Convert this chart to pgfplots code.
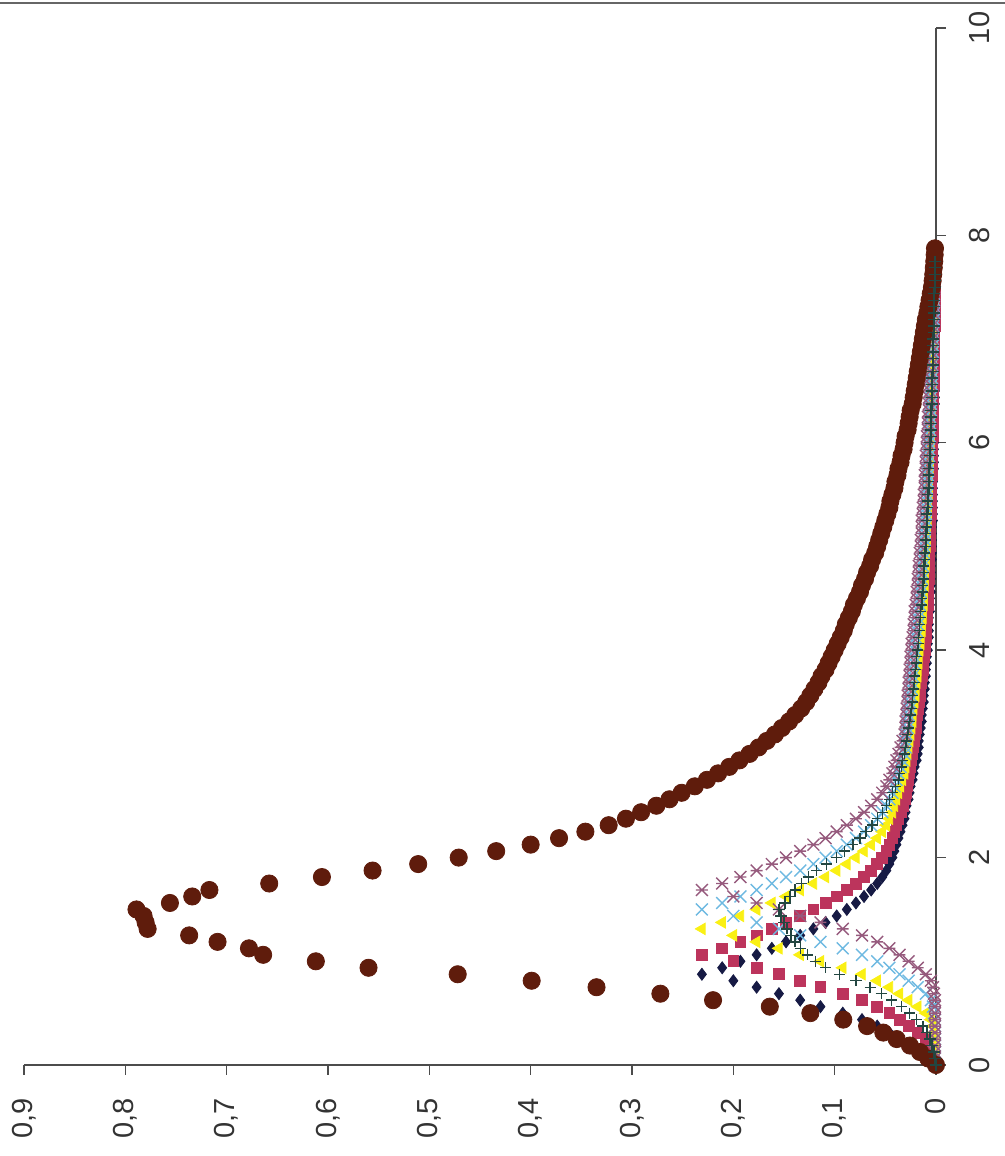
\documentclass[border=0pt]{standalone}
\usepackage{fontspec}
\setmainfont{Liberation Sans}
\usepackage{pgfplots}
\pgfplotsset{compat=1.18}
\usepackage{pgfplotstable}

\definecolor{cnav}{RGB}{22,26,68}
\definecolor{ccri}{RGB}{188,52,92}
\definecolor{cyel}{RGB}{250,240,20}
\definecolor{clbl}{RGB}{110,185,225}
\definecolor{csta}{RGB}{150,90,125}
\definecolor{cplu}{RGB}{35,70,65}
\definecolor{cbro}{RGB}{95,28,12}

\pgfdeclareplotmark{exstar}{%
 \pgfpathmoveto{\pgfqpoint{-.70710678\pgfplotmarksize}{-.70710678\pgfplotmarksize}}%
 \pgfpathlineto{\pgfqpoint{.70710678\pgfplotmarksize}{.70710678\pgfplotmarksize}}%
 \pgfpathmoveto{\pgfqpoint{-.70710678\pgfplotmarksize}{.70710678\pgfplotmarksize}}%
 \pgfpathlineto{\pgfqpoint{.70710678\pgfplotmarksize}{-.70710678\pgfplotmarksize}}%
 \pgfpathmoveto{\pgfqpoint{-.70710678\pgfplotmarksize}{0pt}}%
 \pgfpathlineto{\pgfqpoint{.70710678\pgfplotmarksize}{0pt}}%
 \pgfusepathqstroke}

\pgfplotstableread{
x nav cri yel lbl sta plu
0 0.005 0.001 0.001 0.001 0.001 0.000
0.0625 0.010 0.002 0.001 0.001 0.001 0.001
0.125 0.018 0.003 0.001 0.001 0.001 0.002
0.1875 0.027 0.005 0.001 0.001 0.001 0.004
0.25 0.036 0.010 0.001 0.001 0.001 0.006
0.3125 0.046 0.018 0.002 0.001 0.001 0.009
0.375 0.058 0.027 0.003 0.001 0.001 0.013
0.4375 0.073 0.036 0.005 0.001 0.001 0.019
0.5 0.092 0.046 0.010 0.002 0.001 0.026
0.5625 0.114 0.058 0.018 0.003 0.001 0.034
0.625 0.134 0.073 0.027 0.005 0.001 0.044
0.6875 0.155 0.092 0.036 0.010 0.002 0.054
0.75 0.177 0.114 0.046 0.018 0.003 0.065
0.8125 0.200 0.134 0.058 0.027 0.005 0.079
0.875 0.231 0.155 0.073 0.036 0.010 0.095
0.9375 0.211 0.177 0.092 0.046 0.018 0.109
1 0.193 0.200 0.114 0.058 0.027 0.119
1.0625 0.177 0.231 0.134 0.073 0.036 0.127
1.125 0.162 0.211 0.155 0.092 0.046 0.134
1.1875 0.148 0.193 0.177 0.114 0.058 0.139
1.25 0.134 0.177 0.200 0.134 0.073 0.143
1.3125 0.121 0.162 0.231 0.155 0.092 0.147
1.375 0.109 0.148 0.211 0.177 0.114 0.150
1.4375 0.098 0.134 0.193 0.200 0.134 0.153
1.5 0.088 0.121 0.177 0.231 0.155 0.155
1.5625 0.079 0.109 0.162 0.211 0.177 0.149
1.625 0.071 0.098 0.148 0.193 0.200 0.144
1.6875 0.064 0.088 0.134 0.177 0.231 0.139
1.75 0.058 0.079 0.121 0.162 0.211 0.133
1.8125 0.053 0.071 0.109 0.148 0.193 0.126
1.875 0.049 0.064 0.098 0.134 0.177 0.118
1.9375 0.046 0.058 0.088 0.121 0.162 0.108
2 0.043 0.053 0.079 0.109 0.148 0.098
2.0625 0.041 0.049 0.071 0.098 0.134 0.090
2.125 0.039 0.046 0.064 0.088 0.121 0.082
2.1875 0.037 0.043 0.058 0.079 0.109 0.075
2.25 0.035 0.041 0.053 0.071 0.098 0.069
2.3125 0.033 0.039 0.049 0.064 0.088 0.063
2.375 0.031 0.037 0.046 0.058 0.079 0.058
2.4375 0.030 0.035 0.043 0.053 0.071 0.053
2.5 0.029 0.033 0.041 0.049 0.064 0.049
2.5625 0.027 0.031 0.039 0.046 0.058 0.046
2.625 0.026 0.030 0.037 0.043 0.053 0.043
2.6875 0.025 0.029 0.035 0.041 0.049 0.040
2.75 0.023 0.028 0.033 0.039 0.046 0.037
2.8125 0.022 0.027 0.031 0.037 0.043 0.036
2.875 0.021 0.026 0.030 0.035 0.041 0.034
2.9375 0.019 0.025 0.029 0.033 0.039 0.033
3 0.018 0.024 0.028 0.031 0.037 0.031
3.0625 0.017 0.023 0.027 0.030 0.035 0.030
3.125 0.017 0.022 0.026 0.030 0.033 0.029
3.1875 0.016 0.021 0.025 0.029 0.031 0.028
3.25 0.015 0.020 0.024 0.028 0.030 0.027
3.3125 0.014 0.020 0.023 0.028 0.030 0.026
3.375 0.014 0.019 0.023 0.027 0.029 0.025
3.4375 0.013 0.018 0.022 0.026 0.029 0.024
3.5 0.012 0.017 0.021 0.026 0.028 0.023
3.5625 0.012 0.016 0.020 0.025 0.028 0.023
3.625 0.011 0.016 0.020 0.024 0.027 0.022
3.6875 0.011 0.015 0.019 0.024 0.027 0.021
3.75 0.010 0.014 0.018 0.023 0.026 0.021
3.8125 0.010 0.013 0.018 0.023 0.026 0.020
3.875 0.009 0.013 0.017 0.022 0.025 0.019
3.9375 0.009 0.012 0.017 0.022 0.025 0.019
4 0.008 0.011 0.016 0.021 0.024 0.018
4.0625 0.008 0.011 0.015 0.020 0.024 0.017
4.125 0.007 0.010 0.015 0.020 0.023 0.017
4.1875 0.007 0.010 0.014 0.019 0.022 0.016
4.25 0.007 0.010 0.014 0.018 0.022 0.016
4.3125 0.007 0.009 0.013 0.018 0.021 0.015
4.375 0.006 0.009 0.013 0.017 0.021 0.015
4.4375 0.006 0.008 0.012 0.016 0.020 0.014
4.5 0.006 0.008 0.012 0.016 0.019 0.014
4.5625 0.005 0.008 0.012 0.015 0.019 0.013
4.625 0.005 0.008 0.011 0.015 0.018 0.013
4.6875 0.005 0.007 0.011 0.014 0.018 0.012
4.75 0.005 0.007 0.011 0.014 0.017 0.012
4.8125 0.005 0.007 0.010 0.013 0.017 0.012
4.875 0.004 0.007 0.010 0.013 0.016 0.011
4.9375 0.004 0.007 0.010 0.012 0.016 0.011
5 0.004 0.006 0.009 0.012 0.015 0.010
5.0625 0.004 0.006 0.009 0.011 0.015 0.010
5.125 0.004 0.006 0.009 0.011 0.014 0.010
5.1875 0.004 0.006 0.009 0.011 0.014 0.009
5.25 0.003 0.006 0.008 0.010 0.014 0.009
5.3125 0.003 0.005 0.008 0.010 0.013 0.009
5.375 0.003 0.005 0.008 0.010 0.013 0.008
5.4375 0.003 0.005 0.008 0.009 0.012 0.008
5.5 0.003 0.005 0.007 0.009 0.012 0.008
5.5625 0.003 0.005 0.007 0.009 0.011 0.007
5.625 0.003 0.005 0.007 0.008 0.011 0.007
5.6875 0.003 0.004 0.007 0.008 0.011 0.007
5.75 0.002 0.004 0.006 0.008 0.010 0.007
5.8125 0.002 0.004 0.006 0.008 0.010 0.006
5.875 0.002 0.004 0.006 0.007 0.010 0.006
5.9375 0.002 0.004 0.006 0.007 0.009 0.006
6 0.002 0.004 0.005 0.007 0.009 0.006
6.0625 0.002 0.003 0.005 0.006 0.009 0.005
6.125 0.002 0.003 0.005 0.006 0.008 0.005
6.1875 0.002 0.003 0.005 0.006 0.008 0.005
6.25 0.002 0.003 0.005 0.006 0.008 0.005
6.3125 0.002 0.003 0.004 0.005 0.007 0.005
6.375 0.001 0.003 0.004 0.005 0.007 0.004
6.4375 0.001 0.003 0.004 0.005 0.007 0.004
6.5 0.001 0.003 0.004 0.005 0.006 0.004
6.5625 0.001 0.002 0.003 0.004 0.006 0.004
6.625 0.001 0.002 0.003 0.004 0.006 0.004
6.6875 0.001 0.002 0.003 0.004 0.006 0.003
6.75 0.001 0.002 0.003 0.004 0.005 0.003
6.8125 0.001 0.002 0.003 0.004 0.005 0.003
6.875 0.001 0.002 0.003 0.003 0.005 0.003
6.9375 0.001 0.002 0.002 0.003 0.005 0.003
7 0.001 0.002 0.002 0.003 0.004 0.003
7.0625 0.001 0.002 0.002 0.003 0.004 0.002
7.125 0.001 0.001 0.002 0.003 0.004 0.002
7.1875 0.001 0.001 0.002 0.002 0.004 0.002
7.25 0.001 0.001 0.002 0.002 0.003 0.002
7.3125 0.001 0.001 0.002 0.002 0.003 0.002
7.375 0.001 0.001 0.001 0.002 0.003 0.002
7.4375 0.001 0.001 0.001 0.002 0.003 0.002
7.5 0.001 0.001 0.001 0.002 0.002 0.001
7.5625 0.001 0.001 0.001 0.001 0.002 0.001
7.625 0.001 0.001 0.001 0.001 0.002 0.001
7.6875 0.001 0.001 0.001 0.001 0.002 0.001
7.75 0.001 0.001 0.001 0.001 0.001 0.001
}\smalltab

\pgfplotstableread{
x bro
0 0
0.0625 0.0076
0.125 0.0158
0.1875 0.0257
0.25 0.0388
0.3125 0.052
0.375 0.068
0.4375 0.0915
0.5 0.124
0.5625 0.164
0.625 0.220
0.6875 0.272
0.75 0.335
0.8125 0.399
0.875 0.472
0.9375 0.560
1 0.612
1.0625 0.664
1.125 0.678
1.1875 0.709
1.25 0.737
1.3125 0.778
1.375 0.780
1.4375 0.782
1.5 0.789
1.5625 0.756
1.625 0.734
1.6875 0.717
1.75 0.658
1.8125 0.606
1.875 0.556
1.9375 0.511
2 0.471
2.0625 0.434
2.125 0.400
2.1875 0.372
2.25 0.346
2.3125 0.323
2.375 0.306
2.4375 0.291
2.5 0.276
2.5625 0.263
2.625 0.251
2.6875 0.238
2.75 0.226
2.8125 0.215
2.875 0.204
2.9375 0.194
3 0.184
3.0625 0.175
3.125 0.167
3.1875 0.159
3.25 0.152
3.3125 0.145
3.375 0.139
3.4375 0.133
3.5 0.128
3.5625 0.124
3.625 0.120
3.6875 0.116
3.75 0.113
3.8125 0.109
3.875 0.106
3.9375 0.103
4 0.100
4.0625 0.097
4.125 0.094
4.1875 0.091
4.25 0.089
4.3125 0.086
4.375 0.083
4.4375 0.081
4.5 0.078
4.5625 0.075
4.625 0.073
4.6875 0.070
4.75 0.068
4.8125 0.065
4.875 0.063
4.9375 0.060
5 0.058
5.0625 0.056
5.125 0.054
5.1875 0.052
5.25 0.050
5.3125 0.048
5.375 0.046
5.4375 0.045
5.5 0.043
5.5625 0.041
5.625 0.040
5.6875 0.038
5.75 0.037
5.8125 0.035
5.875 0.034
5.9375 0.032
6 0.031
6.0625 0.030
6.125 0.028
6.1875 0.027
6.25 0.026
6.3125 0.025
6.375 0.023
6.4375 0.022
6.5 0.021
6.5625 0.020
6.625 0.019
6.6875 0.018
6.75 0.017
6.8125 0.016
6.875 0.015
6.9375 0.014
7 0.013
7.0625 0.012
7.125 0.011
7.1875 0.010
7.25 0.0085
7.3125 0.0075
7.375 0.0063
7.4375 0.0052
7.5 0.004
7.5625 0.0033
7.625 0.0027
7.6875 0.0022
7.75 0.0017
7.8125 0.0013
7.875 0.001
}\brotab

\begin{document}
\begin{tikzpicture}
\useasboundingbox (-12pt,-45.5pt) rectangle (490.5pt,532.5pt);
\draw[line width=1pt, color=black!60] (-12pt,531pt) -- (490.5pt,531pt);
\begin{axis}[
  at={(0,0)}, anchor=south west,
  scale only axis, width=456pt, height=518.5pt,
  xmin=-0.9, xmax=0, ymin=0, ymax=10,
  axis x line*=bottom, axis y line*=right,
  axis line style={black!70, line width=0.7pt, -},
  tick style={black!70, line width=0.7pt},
  tick align=outside, major tick length=5pt,
  xtick={-0.9,-0.8,-0.7,-0.6,-0.5,-0.4,-0.3,-0.2,-0.1,0},
  xticklabels={{0,9},{0,8},{0,7},{0,6},{0,5},{0,4},{0,3},{0,2},{0,1},0},
  ytick={0,2,4,6,8,10},
  yticklabels={0,2,4,6,8,10},
  tick label style={font=\fontsize{14.5}{17}\selectfont, text=black!80, inner sep=0pt},
  xticklabel style={rotate=90, anchor=east},
  yticklabel style={rotate=90, anchor=north},
  xticklabel shift=11.5pt, yticklabel shift=11.5pt,
  clip=false,
]
\addplot[only marks, mark=diamond*, mark size=3pt, color=cnav, mark options={fill=cnav, draw=cnav}]
  table[x expr=-\thisrow{nav}, y=x]{\smalltab};
\addplot[only marks, mark=square*, mark size=2.7pt, color=ccri, mark options={fill=ccri, draw=ccri}]
  table[x expr=-\thisrow{cri}, y=x]{\smalltab};
\addplot[only marks, mark=triangle*, mark size=3.3pt, color=cyel, mark options={fill=cyel, draw=cyel, rotate=90}]
  table[x expr=-\thisrow{yel}, y=x]{\smalltab};
\addplot[only marks, mark=x, mark size=4.2pt, color=clbl, mark options={line width=0.7pt}]
  table[x expr=-\thisrow{lbl}, y=x]{\smalltab};
\addplot[only marks, mark=exstar, mark size=4.2pt, color=csta, mark options={line width=0.7pt}]
  table[x expr=-\thisrow{sta}, y=x]{\smalltab};
\addplot[only marks, mark=*, mark size=4.3pt, color=cbro, mark options={fill=cbro, draw=cbro}]
  table[x expr=-\thisrow{bro}, y=x]{\brotab};
\addplot[only marks, mark=+, mark size=2.8pt, color=cplu, mark options={line width=0.7pt}]
  table[x expr=-\thisrow{plu}, y=x]{\smalltab};
\end{axis}
\end{tikzpicture}
\end{document}
